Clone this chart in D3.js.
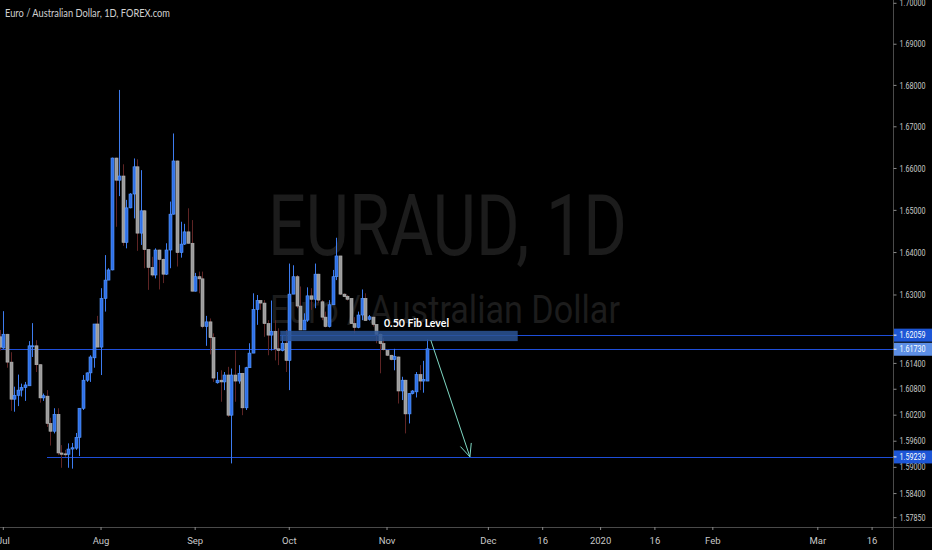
<!DOCTYPE html>
<html><head><meta charset="utf-8">
<script src="https://cdn.jsdelivr.net/npm/d3@7/dist/d3.min.js"></script>
<style>html,body{margin:0;padding:0;background:#000;}svg{display:block;}</style>
</head><body>
<svg id="c" width="932" height="550"></svg>
<script>
// ---- data ----
const firstIndex = -1;
const openP  = [1.6202,1.6176,1.6208,1.6143,1.6057,1.6066,1.6078,1.6084,1.6088,1.6179,1.6181,1.6137,1.6060,1.6064,1.6001,1.5983,1.6022,1.5933,1.5931,1.5930,1.5942,1.5944,1.5969,1.6036,1.6101,1.6118,1.6153,1.6232,1.6178,1.6292,1.6335,1.6359,1.6625,1.6572,1.6582,1.6424,1.6506,1.6539,1.6604,1.6446,1.6499,1.6407,1.6365,1.6347,1.6406,1.6384,1.6349,1.6406,1.6491,1.6618,1.6400,1.6420,1.6449,1.6422,1.6309,1.6343,1.6338,1.6226,1.6237,1.6200,1.6095,1.6101,1.6097,1.6113,1.6020,1.6113,1.6099,1.6117,1.6037,1.6130,1.6164,1.6266,1.6287,1.6281,1.6233,1.6206,1.6215,1.6174,1.6170,1.6187,1.6147,1.6302,1.6343,1.6274,1.6218,1.6241,1.6298,1.6290,1.6349,1.6284,1.6248,1.6226,1.6277,1.6343,1.6392,1.6302,1.6297,1.6292,1.6233,1.6224,1.6253,1.6292,1.6243,1.6248,1.6231,1.6208,1.6186,1.6170,1.6159,1.6149,1.6155,1.6076,1.6101,1.6023,1.6070,1.6074,1.6114,1.6099,1.6099];
const highP  = [1.6218,1.6262,1.6209,1.6166,1.6086,1.6114,1.6093,1.6097,1.6192,1.6234,1.6194,1.6138,1.6070,1.6078,1.6014,1.6036,1.6036,1.5951,1.5940,1.5955,1.5956,1.5979,1.6036,1.6113,1.6119,1.6159,1.6232,1.6251,1.6316,1.6394,1.6363,1.6626,1.6626,1.6789,1.6610,1.6525,1.6541,1.6624,1.6622,1.6596,1.6501,1.6408,1.6390,1.6410,1.6407,1.6386,1.6422,1.6521,1.6684,1.6619,1.6473,1.6468,1.6505,1.6477,1.6352,1.6355,1.6355,1.6251,1.6245,1.6210,1.6120,1.6124,1.6120,1.6132,1.6128,1.6170,1.6136,1.6118,1.6132,1.6187,1.6304,1.6300,1.6288,1.6288,1.6241,1.6287,1.6241,1.6222,1.6206,1.6218,1.6374,1.6370,1.6347,1.6320,1.6257,1.6318,1.6316,1.6374,1.6350,1.6288,1.6261,1.6288,1.6359,1.6435,1.6392,1.6304,1.6300,1.6292,1.6248,1.6261,1.6313,1.6304,1.6253,1.6249,1.6231,1.6210,1.6199,1.6172,1.6160,1.6174,1.6156,1.6109,1.6102,1.6071,1.6078,1.6120,1.6136,1.6146,1.6196];
const lowP   = [1.6170,1.6174,1.6130,1.6030,1.6028,1.6041,1.6063,1.6053,1.6088,1.6155,1.6120,1.6049,1.6053,1.5993,1.5950,1.5978,1.5928,1.5899,1.5924,1.5899,1.5897,1.5940,1.5926,1.6032,1.6097,1.6097,1.6130,1.6178,1.6113,1.6261,1.6335,1.6358,1.6461,1.6534,1.6416,1.6410,1.6505,1.6481,1.6404,1.6418,1.6363,1.6312,1.6343,1.6339,1.6313,1.6328,1.6347,1.6363,1.6490,1.6367,1.6388,1.6418,1.6421,1.6308,1.6308,1.6304,1.6222,1.6181,1.6161,1.6097,1.6093,1.6051,1.6078,1.6016,1.5909,1.6051,1.6093,1.6020,1.6032,1.6130,1.6164,1.6230,1.6265,1.6202,1.6159,1.6170,1.6147,1.6136,1.6168,1.6120,1.6078,1.6302,1.6269,1.6218,1.6218,1.6237,1.6265,1.6269,1.6281,1.6241,1.6224,1.6224,1.6277,1.6335,1.6300,1.6295,1.6287,1.6232,1.6210,1.6222,1.6241,1.6240,1.6240,1.6226,1.6187,1.6117,1.6170,1.6157,1.6147,1.6124,1.6047,1.6055,1.5978,1.6001,1.6068,1.6061,1.6078,1.6072,1.6099];
const closeP = [1.6178,1.6208,1.6143,1.6057,1.6066,1.6078,1.6084,1.6090,1.6181,1.6181,1.6137,1.6060,1.6065,1.6001,1.5983,1.6022,1.5933,1.5930,1.5929,1.5942,1.5945,1.5969,1.6036,1.6101,1.6118,1.6155,1.6232,1.6178,1.6292,1.6335,1.6359,1.6625,1.6572,1.6582,1.6424,1.6506,1.6539,1.6604,1.6446,1.6499,1.6407,1.6365,1.6347,1.6406,1.6384,1.6349,1.6406,1.6491,1.6618,1.6400,1.6420,1.6449,1.6422,1.6309,1.6343,1.6338,1.6226,1.6237,1.6200,1.6106,1.6101,1.6097,1.6113,1.6020,1.6113,1.6099,1.6117,1.6037,1.6130,1.6164,1.6266,1.6287,1.6281,1.6233,1.6206,1.6215,1.6174,1.6170,1.6187,1.6147,1.6302,1.6343,1.6274,1.6218,1.6241,1.6298,1.6290,1.6349,1.6288,1.6248,1.6226,1.6277,1.6343,1.6392,1.6302,1.6296,1.6290,1.6233,1.6224,1.6253,1.6292,1.6240,1.6249,1.6231,1.6208,1.6186,1.6172,1.6159,1.6149,1.6156,1.6076,1.6101,1.6023,1.6070,1.6076,1.6114,1.6099,1.6103,1.6174];

const yTicks = [1.70,1.69,1.68,1.67,1.66,1.65,1.64,1.63,1.614,1.608,1.602,1.596,1.590,1.584,1.5785];
const xTickIdx = [0,27,53,79,106,134,149,165,180,196,225,240];
const xTickLabels = ["Jul","Aug","Sep","Oct","Nov","Dec","16","2020","16","Feb","Mar","16"];

const levelValues = [1.62059, 1.61730, 1.59239];
const levelStartIdx = [76.5, -2, 12.1];
const fibZone = {startIdx: 76.5, endIdx: 142.1, top: 1.6216, bottom: 1.6192, label: "0.50 Fib Level"};
const arrowPts = {fromIdx: 118.1, fromP: 1.6194, toIdx: 128.9, toP: 1.5924};

const title = "Euro / Australian Dollar, 1D, FOREX.com";
const wm1 = "EURAUD, 1D", wm2 = "Euro / Australian Dollar";

// ---- drawing ----
const svg = d3.select("#c");
const W = 932, H = 550, plotR = 893.5, plotB = 527;
svg.append("rect").attr("width", W).attr("height", H).attr("fill", "#000");

const x = d3.scaleLinear().domain([0, 240]).range([3.3, 872.1]);
const y = d3.scaleLog().domain([1.5785, 1.70]).range([517.7, 3.3]);

// watermark
svg.append("text").attr("x", 268).attr("y", 255).text(wm1)
  .attr("font-family", "Roboto, 'Noto Sans', sans-serif").attr("font-size", 86)
  .attr("textLength", 359).attr("lengthAdjust", "spacingAndGlyphs").attr("fill", "#1c1c1c");
svg.append("text").attr("x", 270).attr("y", 323).text(wm2)
  .attr("font-family", "Roboto, 'Noto Sans', sans-serif").attr("font-size", 39)
  .attr("textLength", 350).attr("lengthAdjust", "spacingAndGlyphs").attr("fill", "#1c1c1c");

svg.append("clipPath").attr("id", "pc").append("rect")
  .attr("x", 0).attr("y", 0).attr("width", plotR).attr("height", plotB);
const g = svg.append("g").attr("clip-path", "url(#pc)");

// level lines
levelValues.forEach((v, i) => {
  const yy = Math.round(y(v)) + 0.5;
  g.append("line").attr("x1", x(levelStartIdx[i])).attr("x2", plotR)
    .attr("y1", yy).attr("y2", yy)
    .attr("stroke", "#1e4ed8").attr("stroke-width", 1).attr("shape-rendering", "crispEdges");
});

// candles
const candles = openP.map((o, i) => ({i: firstIndex + i, o, h: highP[i], l: lowP[i], c: closeP[i]}));
const bw = 3;
candles.forEach(d => {
  const up = d.c >= d.o;
  const cx = Math.round(x(d.i)) + 0.5;
  g.append("line").attr("x1", cx).attr("x2", cx).attr("y1", y(d.h)).attr("y2", y(d.l))
    .attr("stroke", up ? "#3d7cf0" : "#5e2424").attr("stroke-width", 1);
  const top = y(Math.max(d.o, d.c)), bot = y(Math.min(d.o, d.c));
  g.append("rect").attr("x", cx - bw / 2).attr("y", top).attr("width", bw)
    .attr("height", Math.max(1, bot - top))
    .attr("fill", up ? "#2e6fe6" : "#9a9a9a")
    .attr("stroke", up ? "#5b9bff" : "#b8b8b8").attr("stroke-width", 0.6);
});

// fib zone
g.append("rect").attr("x", x(fibZone.startIdx)).attr("y", y(fibZone.top))
  .attr("width", x(fibZone.endIdx) - x(fibZone.startIdx)).attr("height", y(fibZone.bottom) - y(fibZone.top))
  .attr("fill", "#2b5596").attr("fill-opacity", 0.85);
g.append("text").attr("x", 384).attr("y", y(fibZone.top) - 4).text(fibZone.label)
  .attr("font-family", "Lato, 'Open Sans', sans-serif").attr("font-weight", "bold")
  .attr("font-size", 11).attr("textLength", 65).attr("lengthAdjust", "spacingAndGlyphs").attr("fill", "#ffffff");

// arrow
const ax1 = x(arrowPts.fromIdx), ay1 = y(arrowPts.fromP), ax2 = x(arrowPts.toIdx), ay2 = y(arrowPts.toP);
const ang = Math.atan2(ay2 - ay1, ax2 - ax1), hl = 14, spread = 0.42;
const ac = "#7fd9c4";
g.append("line").attr("x1", ax1).attr("y1", ay1).attr("x2", ax2).attr("y2", ay2).attr("stroke", ac).attr("stroke-width", 1);
[-spread, spread].forEach(s => {
  g.append("line").attr("x1", ax2).attr("y1", ay2)
    .attr("x2", ax2 - hl * Math.cos(ang + s)).attr("y2", ay2 - hl * Math.sin(ang + s))
    .attr("stroke", ac).attr("stroke-width", 1);
});

// axes lines
svg.append("line").attr("x1", plotR).attr("x2", plotR).attr("y1", 0).attr("y2", H).attr("stroke", "#4a4a4a");
svg.append("line").attr("x1", 0).attr("x2", W).attr("y1", plotB + 0.5).attr("y2", plotB + 0.5).attr("stroke", "#4a4a4a");

// right axis
const fmt = d3.format(".5f");
const yAxis = svg.append("g");
yTicks.forEach(v => {
  const yy = y(v);
  yAxis.append("line").attr("x1", plotR).attr("x2", plotR + 3).attr("y1", yy).attr("y2", yy).attr("stroke", "#8a8a8a");
  yAxis.append("text").attr("x", 899.5).attr("y", yy).attr("dy", "0.35em").text(fmt(v))
    .attr("font-family", "Roboto, 'Noto Sans', sans-serif").attr("font-size", 9)
    .attr("textLength", 26).attr("lengthAdjust", "spacingAndGlyphs").attr("fill", "#c8c8c8");
});
const boxCols = ["#1d56d6", "#5d8fe6", "#1d56d6"];
levelValues.forEach((v, i) => {
  const yy = y(v);
  yAxis.append("rect").attr("x", plotR + 0.5).attr("y", yy - 6.5).attr("width", W - plotR).attr("height", 13).attr("fill", boxCols[i]);
  yAxis.append("line").attr("x1", plotR).attr("x2", plotR + 3).attr("y1", yy).attr("y2", yy).attr("stroke", "#ffffff");
  yAxis.append("text").attr("x", 899.5).attr("y", yy).attr("dy", "0.35em").text(fmt(v))
    .attr("font-family", "Roboto, 'Noto Sans', sans-serif").attr("font-size", 9)
    .attr("textLength", 26).attr("lengthAdjust", "spacingAndGlyphs").attr("fill", "#ffffff");
});

// bottom axis
const xAxis = svg.append("g");
xTickIdx.forEach((t, i) => {
  const xx = x(t);
  xAxis.append("line").attr("x1", xx).attr("x2", xx).attr("y1", plotB).attr("y2", plotB + 3).attr("stroke", "#8a8a8a");
  xAxis.append("text").attr("x", xx).attr("y", 541).attr("dy", "0.35em").attr("text-anchor", "middle")
    .text(xTickLabels[i]).attr("font-family", "Roboto, 'Noto Sans', sans-serif").attr("font-size", 9.5)
    .attr("fill", "#c8c8c8");
});

// title
svg.append("text").attr("x", 5).attr("y", 17).text(title)
  .attr("font-family", "Lato, 'Open Sans', sans-serif").attr("font-size", 11)
  .attr("textLength", 165).attr("lengthAdjust", "spacingAndGlyphs").attr("fill", "#d0d0d0");
</script>
</body></html>
